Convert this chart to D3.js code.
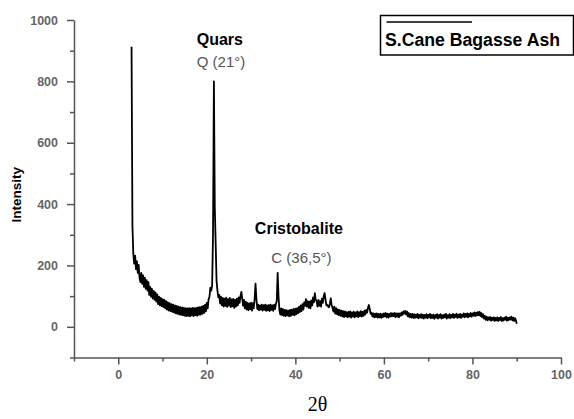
<!DOCTYPE html>
<html>
<head>
<meta charset="utf-8">
<script src="https://cdn.jsdelivr.net/npm/d3@7"></script>
<style>
  body { margin: 0; background: #fff; }
  svg { display: block; font-family: Arial, "Liberation Sans", sans-serif; }
  .axis path, .axis line { stroke: #555; stroke-width: 1.5; }
  .axis text { fill: #666; font-weight: bold; font-size: 12.5px; }
</style>
</head>
<body>
<div id="chart"></div>
<script>
// scan grid (degrees 2θ)
const angleStart = 3.0;
const angleStep = 0.2;

// measured intensity, one value per step from 3.0° to 90.0°
const intensity = [
  913, 330, 236, 206, 232, 188, 214, 176, 202, 160,
  146, 176, 140, 168, 130, 160, 124, 152, 118, 146,
  104, 130, 98, 124, 92, 117, 88, 112, 82, 106,
  74, 98, 70, 94, 67, 90, 64, 88, 60, 84,
  56, 80, 53, 77, 51, 74, 49, 72, 46, 70,
  44, 68, 42, 66, 40, 64, 39, 63, 37, 62,
  36, 61, 35, 60, 36, 61, 34, 60, 37, 62,
  35, 61, 37, 62, 36, 63, 39, 64, 40, 66,
  42, 68, 45, 72, 50, 78, 60, 90, 98, 128,
  118, 134, 300, 800, 390, 272, 150, 118, 96, 104,
  76, 98, 70, 94, 66, 92, 68, 95, 65, 90,
  69, 94, 64, 89, 67, 91, 62, 88, 66, 92,
  70, 96, 78, 100, 114, 92, 68, 88, 60, 82,
  56, 78, 54, 76, 57, 79, 53, 77, 60, 92,
  141, 90, 58, 72, 54, 70, 56, 72, 53, 71,
  55, 72, 52, 70, 54, 71, 51, 72, 55, 70,
  52, 72, 58, 74, 84, 176, 98, 54, 40, 60,
  38, 58, 36, 55, 35, 54, 37, 53, 34, 55,
  36, 56, 39, 58, 37, 59, 41, 61, 44, 65,
  48, 70, 51, 74, 56, 80, 68, 90, 66, 84,
  62, 82, 60, 86, 70, 96, 80, 110, 88, 84,
  66, 88, 68, 84, 66, 92, 78, 100, 110, 90,
  70, 72, 66, 64, 76, 93, 70, 62, 50, 66,
  43, 61, 41, 57, 38, 55, 36, 53, 34, 51,
  32, 50, 34, 48, 31, 49, 33, 50, 30, 47,
  33, 49, 31, 47, 34, 50, 32, 48, 35, 51,
  33, 49, 36, 53, 40, 55, 46, 62, 71, 58,
  42, 46, 34, 44, 31, 43, 32, 44, 30, 42,
  31, 43, 29, 41, 32, 44, 34, 45, 31, 43,
  30, 42, 33, 45, 34, 44, 35, 45, 32, 44,
  33, 44, 31, 44, 36, 47, 39, 50, 43, 52,
  40, 50, 34, 45, 31, 42, 30, 42, 29, 41,
  29, 40, 31, 42, 28, 39, 30, 41, 29, 40,
  27, 39, 30, 41, 28, 39, 31, 42, 28, 39,
  29, 40, 26, 38, 30, 41, 27, 39, 30, 41,
  27, 38, 29, 40, 31, 42, 27, 38, 30, 41,
  28, 39, 31, 42, 29, 40, 32, 43, 29, 40,
  31, 42, 29, 40, 33, 44, 31, 42, 33, 44,
  31, 42, 34, 45, 33, 44, 36, 47, 35, 46,
  37, 48, 38, 49, 35, 45, 31, 41, 27, 36,
  23, 33, 21, 31, 23, 32, 20, 30, 22, 31,
  19, 29, 21, 31, 19, 29, 22, 32, 19, 28,
  20, 30, 23, 33, 20, 29, 22, 31, 24, 33,
  21, 30, 19, 28, 22,
  10
];

const xMajor = [0, 20, 40, 60, 80, 100];
const xMinor = [-10, 10, 30, 50, 70, 90];
const yMajor = [0, 200, 400, 600, 800, 1000];
const yMinor = [-100, 100, 300, 500, 700, 900];

const peakLabels = [
  { name: "Quars", tag: "Q (21°)", at: 21 },
  { name: "Cristobalite", tag: "C (36,5°)", at: 36.5 }
];
const seriesName = "S.Cane Bagasse Ash";

const width = 574, height = 419;
const margin = { top: 20, right: 13, bottom: 61.5, left: 74 };

const svg = d3.select("#chart").append("svg")
    .attr("width", width)
    .attr("height", height);

const x = d3.scaleLinear()
    .domain([-10, 100])
    .range([margin.left, width - margin.right]);

const y = d3.scaleLinear()
    .domain([-100, 1000])
    .range([height - margin.bottom, margin.top]);

const points = intensity.map((v, i) => ({ a: angleStart + i * angleStep, v }));

// minor ticks first, then major axes with labels
svg.append("g")
    .attr("class", "axis")
    .attr("transform", `translate(0,${y(-100)})`)
    .call(d3.axisBottom(x).tickValues(xMinor).tickSize(4).tickFormat(""))
    .select(".domain").remove();

svg.append("g")
    .attr("class", "axis")
    .attr("transform", `translate(${x(-10)},0)`)
    .call(d3.axisLeft(y).tickValues(yMinor).tickSize(4).tickFormat(""))
    .select(".domain").remove();

svg.append("g")
    .attr("class", "axis")
    .attr("transform", `translate(0,${y(-100)})`)
    .call(d3.axisBottom(x).tickValues(xMajor).tickFormat(d3.format("d"))
        .tickSize(7).tickSizeOuter(0).tickPadding(6));

svg.append("g")
    .attr("class", "axis")
    .attr("transform", `translate(${x(-10)},0)`)
    .call(d3.axisLeft(y).tickValues(yMajor).tickFormat(d3.format("d"))
        .tickSize(7).tickSizeOuter(0).tickPadding(9));

// pattern
const line = d3.line()
    .x(d => x(d.a))
    .y(d => y(d.v));

svg.append("path")
    .datum(points)
    .attr("fill", "none")
    .attr("stroke", "#000")
    .attr("stroke-width", 1.8)
    .attr("stroke-linejoin", "round")
    .attr("d", line);

// peak annotations
const ann = [
  { p: peakLabels[0], dx: -14.5, tagDx: 0, yName: 45, yTag: 67 },
  { p: peakLabels[1], dx: -25, tagDx: 16.5, yName: 234, yTag: 263 }
];
ann.forEach(d => {
  svg.append("text")
      .attr("x", x(d.p.at) + d.dx)
      .attr("y", d.yName)
      .style("font-size", "16px")
      .style("font-weight", "bold")
      .text(d.p.name);
  svg.append("text")
      .attr("x", x(d.p.at) + d.dx + d.tagDx)
      .attr("y", d.yTag)
      .style("font-size", "15px")
      .style("fill", "#555")
      .text(d.p.tag);
});

// legend
const lg = svg.append("g");
lg.append("rect")
    .attr("x", 380.5).attr("y", 15.5)
    .attr("width", 193).attr("height", 39.5)
    .attr("fill", "none")
    .attr("stroke", "#000")
    .attr("stroke-width", 1.5);
lg.append("line")
    .attr("x1", 386.5).attr("x2", 472)
    .attr("y1", 22).attr("y2", 22)
    .attr("stroke", "#000")
    .attr("stroke-width", 1.5);
lg.append("text")
    .attr("x", 385).attr("y", 46)
    .attr("textLength", 175)
    .attr("lengthAdjust", "spacingAndGlyphs")
    .style("font-size", "18px")
    .style("font-weight", "bold")
    .text(seriesName);

// axis titles
svg.append("text")
    .attr("transform", `translate(21,${(y(-100) + y(1000)) / 2 + 6}) rotate(-90)`)
    .attr("text-anchor", "middle")
    .style("font-size", "13.5px")
    .style("font-weight", "bold")
    .text("Intensity");

svg.append("text")
    .attr("x", (x(-10) + x(100)) / 2)
    .attr("y", 411)
    .attr("text-anchor", "middle")
    .style("font-family", "'Liberation Serif', 'DejaVu Serif', serif")
    .style("font-size", "20px")
    .text("2θ");
</script>
</body>
</html>
